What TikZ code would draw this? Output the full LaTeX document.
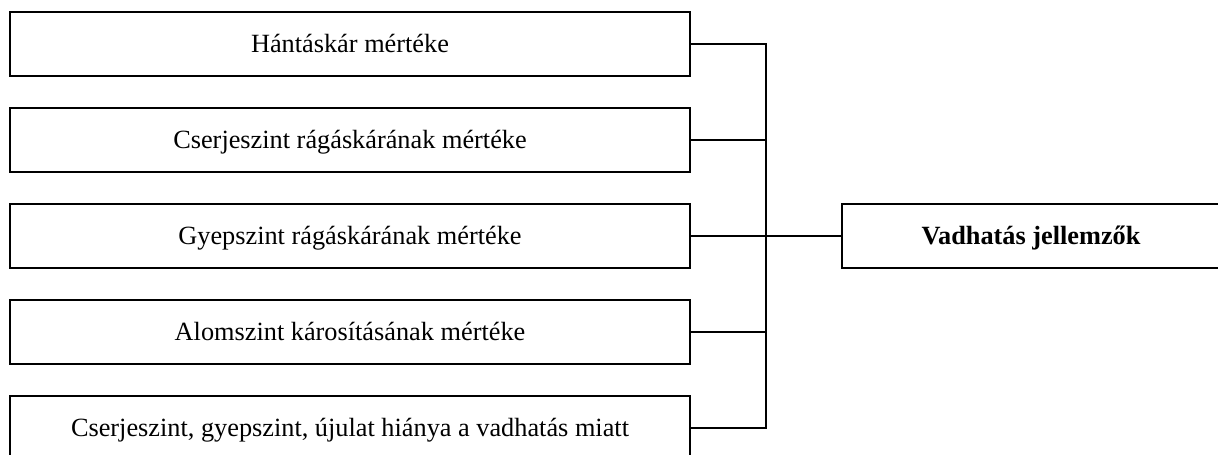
\documentclass[tikz,border=0pt]{standalone}
\usepackage{fontspec}
\setmainfont{Liberation Serif}
\begin{document}
\begin{tikzpicture}[x=1pt,y=-1pt,
  every node/.style={font=\fontsize{26.3}{30}\selectfont},
  item/.style={draw, line width=1.4pt, rectangle, inner sep=0pt,
    minimum width=680pt, minimum height=64pt,
    text height=21.3pt, text depth=5.3pt},
  result/.style={item, minimum width=378pt, font=\fontsize{26.3}{30}\selectfont\bfseries},
  link/.style={line width=1.4pt}]
  \useasboundingbox (0,0) rectangle (1218,455);
  \clip (0,0) rectangle (1218,455);

  % left column of criteria
  \node[item] (b1) at (350,44)  {Hántáskár mértéke};
  \node[item] (b2) at (350,140) {Cserjeszint rágáskárának mértéke};
  \node[item] (b3) at (350,236) {Gyepszint rágáskárának mértéke};
  \node[item] (b4) at (350,332) {Alomszint károsításának mértéke};
  \node[item] (b5) at (350,428) {Cserjeszint, gyepszint, újulat hiánya a vadhatás miatt};

  % summary box on the right
  \node[result] (res) at (1031,236) {Vadhatás jellemzők};

  % collecting bus
  \coordinate (bus) at (766,0);
  \draw[link] (b1.east) -- (b1.east -| bus) -- (b5.east -| bus) -- (b5.east);
  \draw[link] (b2.east) -- (b2.east -| bus);
  \draw[link] (b4.east) -- (b4.east -| bus);
  \draw[link] (b3.east) -- (res.west);
\end{tikzpicture}
\end{document}
